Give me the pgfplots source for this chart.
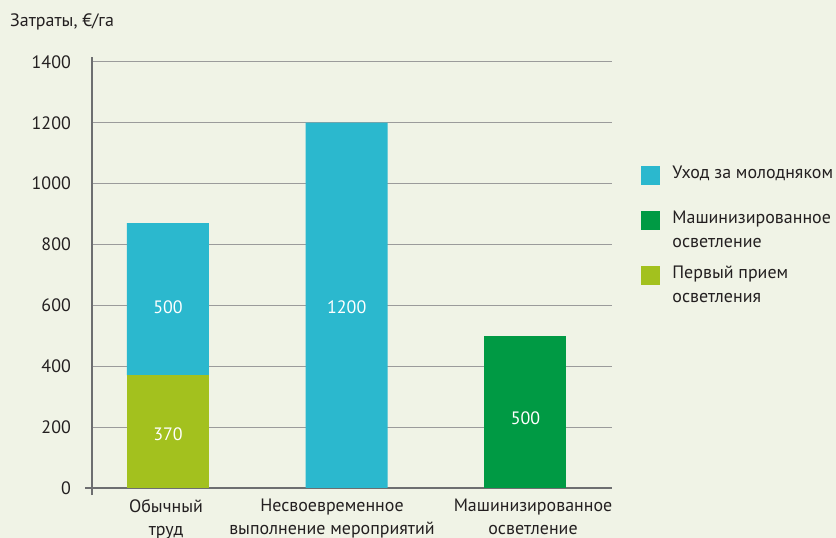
\documentclass[border=0pt]{standalone}
\usepackage{pgfplots}
\pgfplotsset{compat=1.18}
\usepackage{fontspec}
\setmainfont{PT Sans}
\definecolor{bg}{HTML}{F0F3E6}
\definecolor{cy}{HTML}{2BB8CE}
\definecolor{dg}{HTML}{009A44}
\definecolor{lm}{HTML}{A3C11E}
\definecolor{gr}{HTML}{9B9B9B}
\definecolor{ax}{HTML}{6D6E70}
\definecolor{tx}{HTML}{231F20}
\newcommand\lab{\fontsize{18}{23}\selectfont}
\newcommand\leg{\fontsize{18}{24}\selectfont}
\begin{document}
\begin{tikzpicture}
\fill[bg] (0,0) rectangle (836bp,538bp);
\node[anchor=base west, font=\lab, text=tx, inner sep=0pt] at (10bp,511.3bp) {Затраты, €/га};
\begin{axis}[
 at={(92bp,50bp)}, anchor=south west,
 scale only axis, width=520bp, height=431bp,
 xmin=-0.425, xmax=2.484, ymin=0, ymax=1416,
 ybar stacked, bar width=82bp,
 axis x line*=bottom, axis y line*=left,
 axis line style={ax, line width=2bp, shorten <=-7bp},
 major tick length=0pt,
 ytick={0,200,...,1400},
 ymajorgrids, grid style={gr, line width=1bp},
 xtick={-0.011,0.9175,2.042},
 xticklabels={{Обычный\\труд},{Несвоевременное\\выполнение мероприятий},{Машинизированное\\осветление}},
 xticklabel style={font=\lab, text=tx, align=center, inner sep=0pt, anchor=north, yshift=-11bp},
 yticklabel style={font=\lab, text=tx, inner sep=0pt, anchor=east, xshift=-21bp},
 /pgf/number format/assume math mode=true,
 /pgf/number format/1000 sep={},
 legend style={at={(1.0558,0.756)}, anchor=north west, draw=none, fill=none, inner sep=0pt, outer sep=0pt, row sep=7.2bp, column sep=13bp, font=\leg, text=tx, nodes={inner sep=0pt, text depth=}, cells={anchor=base west}},
]
\addlegendimage{legend image code/.code={\fill[cy] (0bp,-5bp) rectangle (18bp,13bp);}}
\addlegendentry{\begin{tabular}[t]{@{}l@{}}Уход за молодняком\rule[-21bp]{0pt}{0pt}\end{tabular}}
\addlegendimage{legend image code/.code={\fill[dg] (0bp,-5bp) rectangle (18bp,13bp);}}
\addlegendentry{\begin{tabular}[t]{@{}l@{}}Машинизированное\\осветление\end{tabular}}
\addlegendimage{legend image code/.code={\fill[lm] (0bp,-5bp) rectangle (18bp,13bp);}}
\addlegendentry{\begin{tabular}[t]{@{}l@{}}Первый прием\\осветления\end{tabular}}
\addplot[fill=lm, draw=none, forget plot] coordinates {(0,370) (1,0) (2,0)};
\addplot[fill=cy, draw=none, forget plot] coordinates {(0,500) (1,1200) (2,0)};
\addplot[fill=dg, draw=none, forget plot] coordinates {(0,0) (1,0) (2,500)};
\addplot[stack plots=false, only marks, mark=none, forget plot, nodes near coords, point meta=explicit symbolic, nodes near coords align=center, every node near coord/.append style={font=\lab, text=white, anchor=center, inner sep=0pt}] coordinates {(0,354)[370] (0,1190)[500] (1,1190)[1200] (2,460)[500]};
\end{axis}
\pgfresetboundingbox
\path (0,0) rectangle (836bp,538bp);
\end{tikzpicture}
\end{document}
